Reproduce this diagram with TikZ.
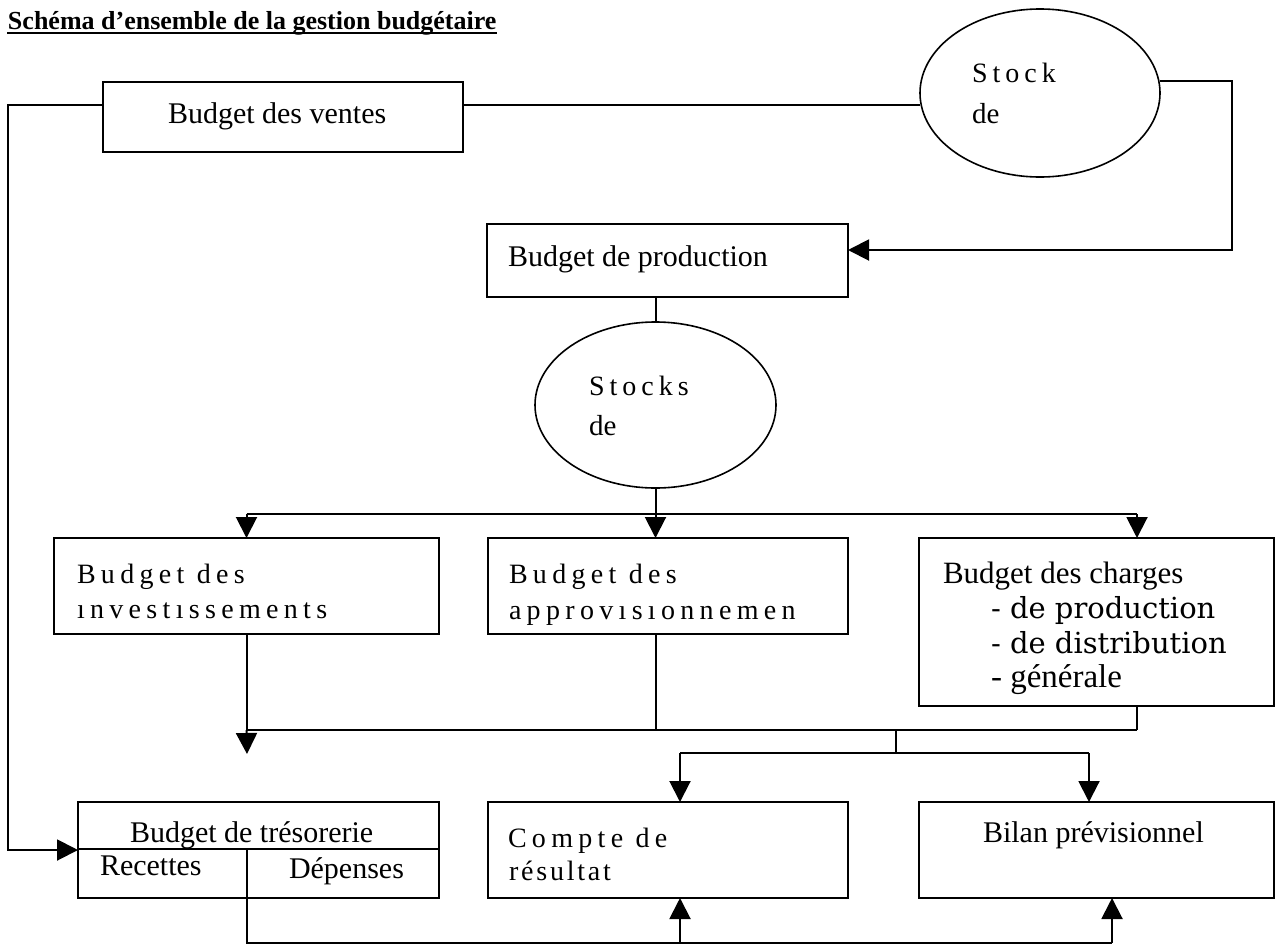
\documentclass[tikz,border=0pt]{standalone}
\usepackage{fontspec}
\setmainfont{Liberation Serif}
\newfontfamily\spacedA[LetterSpace=19]{Liberation Serif}
\newfontfamily\spacedB[LetterSpace=18]{Liberation Serif}
\newfontfamily\spacedC[LetterSpace=10]{Liberation Serif}
\newfontfamily\centfont{DejaVu Serif}
\usetikzlibrary{arrows.meta,shapes.geometric}
\begin{document}
\begin{tikzpicture}[x=1pt,y=-1pt,line width=2pt,
  box/.style={draw,line width=2pt,rectangle,inner sep=0pt,outer sep=0pt},
  oval/.style={draw,ellipse,line width=1.6pt,inner sep=0pt,outer sep=0pt},
  arr/.style={-{Triangle[length=21pt,width=21pt]}},
  txt/.style={anchor=base west,inner sep=0pt,outer sep=0pt,font=\fontsize{30}{36}\selectfont},
  sptxt/.style={anchor=base west,inner sep=0pt,outer sep=0pt,font=\fontsize{28}{32}\spacedA}
]
\useasboundingbox (0,0) rectangle (1276,945);

% title
\node[anchor=base west,inner sep=0pt,font=\fontsize{26}{30}\bfseries] (title) at (7,29) {Schéma d’ensemble de la gestion budgétaire\ };
\draw[line width=1.8pt] ([yshift=-4pt]title.base west) -- ([yshift=-4pt]title.base east);

% boxes
\node[box,minimum width=360pt,minimum height=70pt] (ventes) at (283,117) {};
\node[txt] (tventes) at (168,123) {Budget des ventes};

\node[oval,minimum width=240pt,minimum height=168pt] (stock1) at (1040,93) {};
\node[anchor=base west,inner sep=0pt,font=\fontsize{28}{30}\spacedB] (tstock1a) at (971,82) {Stock};
\node[anchor=base west,inner sep=0pt,font=\fontsize{29}{30}\selectfont] (tstock1b) at (971,123) {de};

\node[box,minimum width=361pt,minimum height=73pt] (prod) at (667.5,260.5) {};
\node[txt] (tprod) at (508,266) {Budget de production};

\node[oval,minimum width=241pt,minimum height=166pt] (stock2) at (655.5,405) {};
\node[anchor=base west,inner sep=0pt,font=\fontsize{28}{30}\spacedB] (tstock2a) at (588,395) {Stocks};
\node[anchor=base west,inner sep=0pt,font=\fontsize{29}{30}\selectfont] (tstock2b) at (588,435) {de};

\node[box,minimum width=385pt,minimum height=96pt] (invest) at (246.5,586) {};
\node[sptxt] (tinv1) at (77,583) {Budget des};
\node[sptxt] (tinv2) at (77,618) {ınvestıssements};

\node[box,minimum width=360pt,minimum height=96pt] (appro) at (668,586) {};
\node[sptxt] (tapp1) at (509,583) {Budget des};
\node[sptxt] (tapp2) at (509,619) {approvısıonnemen};

\node[box,minimum width=355pt,minimum height=168pt] (charges) at (1096.5,622) {};
\node[anchor=base west,inner sep=0pt,font=\fontsize{31}{36}\selectfont] (tch1) at (942,583) {Budget des charges};
\node[anchor=base west,inner sep=0pt,font=\fontsize{29}{32}\centfont] (tch2) at (990,618) {-\ de production};
\node[anchor=base west,inner sep=0pt,font=\fontsize{29}{32}\centfont] (tch3) at (990,653) {-\ de distribution};
\node[anchor=base west,inner sep=0pt,font=\fontsize{33}{36}\selectfont] (tch4) at (990,687) {- générale};

\node[box,minimum width=361pt,minimum height=96pt] (treso) at (258.5,850) {};
\node[txt] (ttreso) at (130,842) {Budget de trésorerie};
\begin{scope}
\clip (80,851) rectangle (246,897);
\node[txt] (trec) at (100,875) {Recettes};
\end{scope}
\node[txt] (tdep) at (289,878) {Dépenses};

\node[box,minimum width=360pt,minimum height=96pt] (compte) at (668,850) {};
\node[sptxt] (tcp1) at (508,847) {Compte de};
\node[anchor=base west,inner sep=0pt,font=\fontsize{28}{32}\spacedC] (tcp2) at (508,880) {résultat};

\node[box,minimum width=355pt,minimum height=96pt] (bilan) at (1096.5,850) {};
\node[txt] (tbil) at (983,842) {Bilan prévisionnel};

% routing coordinates
\coordinate (c1) at (8,105);
\coordinate (v2) at ([yshift=12pt]ventes.east);
\coordinate (s1) at ([yshift=12pt]stock1.east);
\coordinate (c2) at (1232,81);
\coordinate (dist) at (0,514);
\coordinate (chIn) at (1137,514);
\coordinate (col) at (0,730);
\coordinate (dang) at (247,754);
\coordinate (j1) at (896,730);
\coordinate (j2) at (896,753);
\coordinate (cpIn) at (680,753);
\coordinate (blIn) at (1089,753);
\coordinate (bot) at (0,943);
\coordinate (blOut) at (1112,943);
\coordinate (tdiv) at (247,849);

% connectors
\draw[arr] ([yshift=12pt]ventes.west) -- (c1) |- (treso.west);
\draw (v2) -- (v2 -| stock1.west);
\draw[arr] (s1) -- (c2) |- ([yshift=10.5pt]prod.east);
\draw (stock2.north) -- (stock2.north |- prod.south);
\draw (stock2.south) -- (stock2.south |- dist);
\draw (invest.north |- dist) -- (chIn);
\draw[arr] (invest.north |- dist) -- (invest.north);
\draw[arr] (stock2.south |- dist) -- (stock2.south |- appro.north);
\draw[arr] (chIn) -- (chIn |- charges.north);

\draw (invest.south) -- (invest.south |- col);
\draw (stock2.south |- appro.south) -- (stock2.south |- col);
\draw (chIn |- charges.south) -- (chIn |- col);
\draw (invest.south |- col) -- (chIn |- col);
\draw[arr] (invest.south |- col) -- (dang);

\draw (j1) -- (j2);
\draw (cpIn) -- (blIn);
\draw[arr] (cpIn) -- (cpIn |- compte.north);
\draw[arr] (blIn) -- (blIn |- bilan.north);

\draw (treso.west |- tdiv) -- (treso.east |- tdiv);
\draw (tdiv) -- (tdiv |- treso.south);
\draw (tdiv |- treso.south) -- (tdiv |- bot) -- (blOut);
\draw[arr] (cpIn |- bot) -- (cpIn |- compte.south);
\draw[arr] (blOut) -- (blOut |- bilan.south);
\end{tikzpicture}
\end{document}
